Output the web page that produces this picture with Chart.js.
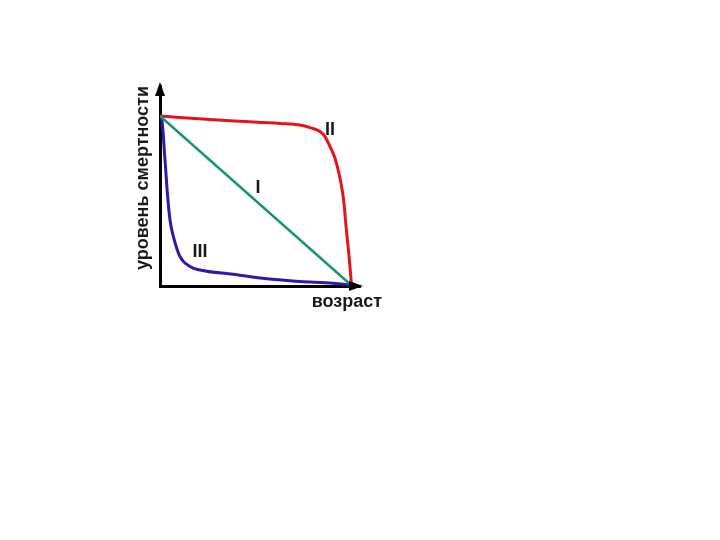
<!DOCTYPE html>
<html><head><meta charset="utf-8">
<script src="https://cdn.jsdelivr.net/npm/chart.js@4/dist/chart.umd.min.js"></script>
<style>html,body{margin:0;padding:0;background:#fff;}#c{display:block;}</style>
</head><body>
<canvas id="c" width="720" height="540"></canvas>
<script>
// Data (age 0..100, mortality level 0..100)
const typeI_x   = [0, 95.5];
const typeI_y   = [85, 0.5];
const typeII_x  = [0, 35, 60, 70, 75, 80, 82.5, 85, 87.5, 90, 91.7, 93.3, 94.5, 95.3, 95.7];
const typeII_y  = [85, 82.6, 81.3, 80.5, 79.2, 77.2, 74.7, 69.7, 63.9, 53.9, 43.9, 27, 15, 6, 0.8];
const typeIII_x = [0, 0.8, 2.5, 3.7, 5, 6.7, 10, 15, 20, 36.5, 53.3, 70, 86.5, 95.5];
const typeIII_y = [85, 83.9, 63, 46.3, 33, 24.7, 14.7, 9.8, 8.0, 5.9, 3.6, 2.3, 1.4, 0.5];
const curveLabels = [
  {text: 'II',  x: 85, y: 78},
  {text: 'I',   x: 49, y: 49},
  {text: 'III', x: 20, y: 17}
];
const xTitle = 'возраст';
const yTitle = 'уровень смертности';

const pts = (xs, ys) => xs.map((x, i) => ({x, y: ys[i]}));

const decor = {
  id: 'decor',
  afterDraw(chart) {
    const {ctx, chartArea: a, scales} = chart;
    ctx.save();
    ctx.fillStyle = '#000';
    // y arrowhead
    ctx.beginPath();
    ctx.moveTo(a.left, a.top - 4);
    ctx.lineTo(a.left - 5, a.top + 10);
    ctx.lineTo(a.left + 5, a.top + 10);
    ctx.closePath(); ctx.fill();
    // x arrowhead
    ctx.beginPath();
    ctx.moveTo(a.right + 3, a.bottom);
    ctx.lineTo(a.right - 11, a.bottom - 5);
    ctx.lineTo(a.right - 11, a.bottom + 5);
    ctx.closePath(); ctx.fill();

    ctx.fillStyle = '#1a1a1a';
    ctx.font = 'bold 18px "Liberation Sans", Arial, sans-serif';
    ctx.textAlign = 'center';
    ctx.textBaseline = 'middle';
    curveLabels.forEach(l => {
      ctx.fillText(l.text, scales.x.getPixelForValue(l.x), scales.y.getPixelForValue(l.y));
    });
    // axis titles
    ctx.textAlign = 'right';
    ctx.fillText(xTitle, a.right + 22, a.bottom + 16);
    ctx.save();
    ctx.translate(a.left - 17, 178);
    ctx.rotate(-Math.PI / 2);
    ctx.textAlign = 'center';
    ctx.fillText(yTitle, 0, 0);
    ctx.restore();
    ctx.restore();
  }
};

const lineDs = (label, data, color, w) => ({
  label, data, borderColor: color, borderWidth: w, pointRadius: 0,
  fill: false, cubicInterpolationMode: 'monotone', tension: 0.4
});

new Chart(document.getElementById('c'), {
  type: 'line',
  data: {
    datasets: [
      lineDs('I', pts(typeI_x, typeI_y), 'rgb(25,150,110)', 2.5),
      lineDs('II', pts(typeII_x, typeII_y), 'rgb(228,20,30)', 3),
      lineDs('III', pts(typeIII_x, typeIII_y), 'rgb(45,25,170)', 3)
    ]
  },
  options: {
    responsive: false,
    animation: false,
    layout: {padding: {left: 152, top: 86, right: 360, bottom: 246}},
    plugins: {legend: {display: false}, tooltip: {enabled: false}},
    scales: {
      x: {type: 'linear', min: 0, max: 100,
          grid: {display: false}, ticks: {display: false},
          border: {display: true, width: 3, color: '#000'}},
      y: {type: 'linear', min: 0, max: 100,
          grid: {display: false}, ticks: {display: false},
          border: {display: true, width: 3, color: '#000'}}
    }
  },
  plugins: [decor]
});
</script>
</body></html>
